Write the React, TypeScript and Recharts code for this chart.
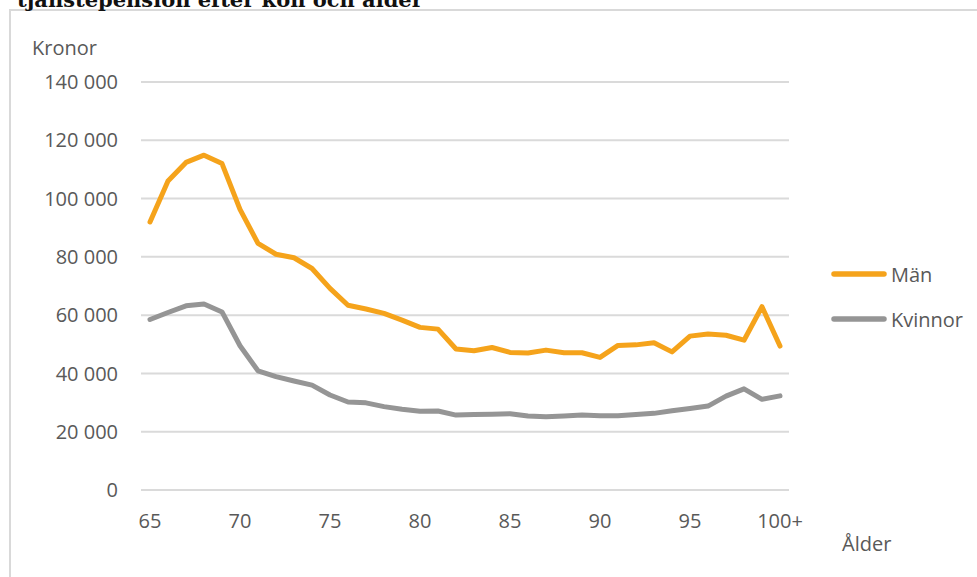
import React from 'react';
import { LineChart, Line, XAxis, YAxis, CartesianGrid, Legend } from 'recharts';

const ages = ['65','66','67','68','69','70','71','72','73','74','75','76','77','78','79','80','81','82','83','84','85','86','87','88','89','90','91','92','93','94','95','96','97','98','99','100+'];
const man = [92000,106000,112400,114900,112000,96300,84600,80900,79700,76000,69200,63400,62100,60600,58300,55800,55200,48400,47800,48900,47200,47000,48000,47100,47100,45500,49600,49800,50500,47400,52800,53500,53100,51400,62900,49400];
const kvinnor = [58500,60900,63200,63800,61100,49500,40900,38900,37400,36000,32600,30200,29900,28600,27700,27000,27100,25700,25900,26000,26200,25400,25100,25400,25700,25500,25500,25900,26300,27200,28000,28800,32200,34700,31100,32300];
const yTicks = [0,20000,40000,60000,80000,100000,120000,140000];

const series = [
  { key: 'man', name: 'Män', color: '#F5A31B' },
  { key: 'kvinnor', name: 'Kvinnor', color: '#959595' },
];

const data = ages.map((age, i) => ({ age, man: man[i], kvinnor: kvinnor[i] }));

const FONT = '"Open Sans", sans-serif';
const TXT = '#595959';

const fmt = (v: number) => String(v).replace(/\B(?=(\d{3})+(?!\d))/g, ' ');

const YTick = (p: any) => (
  <text x={118} y={p.y} dy={7.1} textAnchor="end" fontFamily={FONT} fontSize={20} fill={TXT}>
    {fmt(p.payload.value)}
  </text>
);

const XTick = (p: any) => (
  <text x={p.x} y={528} textAnchor="middle" fontFamily={FONT} fontSize={20} fill={TXT}>
    {p.payload.value}
  </text>
);

const LegendContent = () => (
  <svg width={140} height={80} style={{ display: 'block' }}>
    {series.map((s, i) => (
      <g key={s.key}>
        <line x1={6} x2={56} y1={12 + 45 * i} y2={12 + 45 * i} stroke={s.color} strokeWidth={5.5} strokeLinecap="round" />
        <text x={63} y={12 + 45 * i + 8.3} fontFamily={FONT} fontSize={20} fill={TXT}>{s.name}</text>
      </g>
    ))}
  </svg>
);

export default function App() {
  return (
    <div style={{ position: 'absolute', left: 0, top: 0, width: 977, height: 577, overflow: 'hidden', background: '#fff' }}>
      <div style={{ position: 'absolute', left: 9, top: 9, width: 1100, height: 1100, border: '2px solid #d9d9d9', boxSizing: 'border-box' }} />
      <svg width={977} height={30} style={{ position: 'absolute', left: 0, top: 0 }}>
        <text x={17} y={7} fontFamily='"DejaVu Serif", serif' fontWeight="bold" fontSize={21} fill="#111">
          tjänstepension efter kön och ålder
        </text>
      </svg>
      <div style={{ position: 'absolute', left: 0, top: 0 }}>
        <LineChart width={977} height={577} data={data} margin={{ top: 82, right: 188, bottom: 57, left: 0 }}>
          <CartesianGrid vertical={false} stroke="#dadada" strokeWidth={2} />
          <XAxis
            dataKey="age"
            height={30}
            interval={4}
            padding={{ left: 9, right: 9 }}
            axisLine={false}
            tickLine={false}
            tick={XTick}
            label={{ content: () => <text x={842} y={551} fontFamily={FONT} fontSize={20} fill={TXT}>Ålder</text> }}
          />
          <YAxis
            width={141}
            domain={[0, 140000]}
            ticks={yTicks}
            axisLine={false}
            tickLine={false}
            tick={YTick}
            label={{ content: () => <text x={32} y={55} fontFamily={FONT} fontSize={20} fill={TXT}>Kronor</text> }}
          />
          <Legend
            layout="vertical"
            align="center"
            verticalAlign="middle"
            wrapperStyle={{ left: 828, top: 262, width: 140, height: 80 }}
            content={LegendContent}
          />
          {series.map((s) => (
            <Line
              key={s.key}
              type="linear"
              dataKey={s.key}
              name={s.name}
              stroke={s.color}
              strokeWidth={5}
              strokeLinecap="round"
              strokeLinejoin="round"
              dot={false}
              activeDot={false}
              isAnimationActive={false}
            />
          ))}
        </LineChart>
      </div>
    </div>
  );
}
